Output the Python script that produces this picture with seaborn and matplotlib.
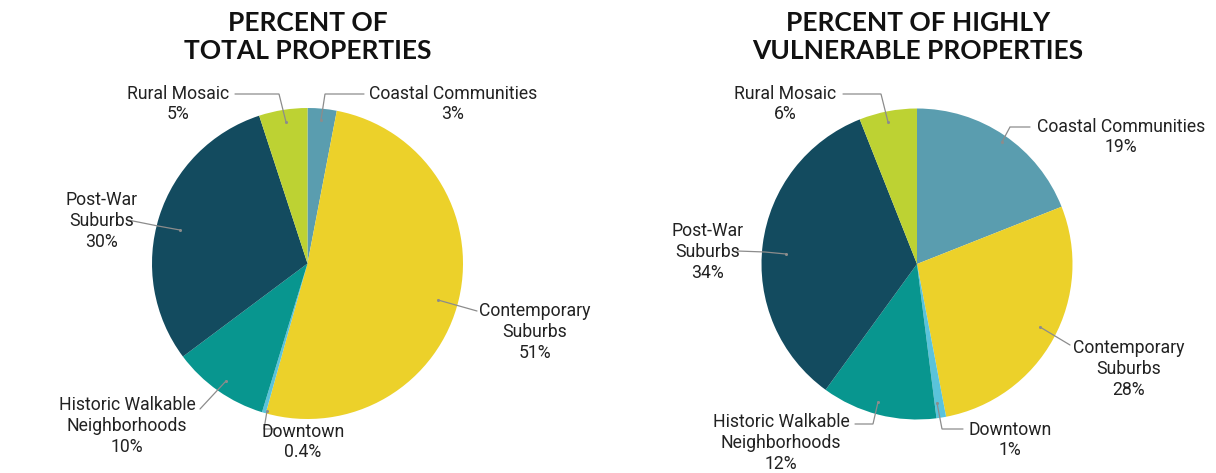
import matplotlib
matplotlib.use("Agg")
import matplotlib.pyplot as plt
import seaborn as sns

# --- data -------------------------------------------------------------
categories = [
    "Coastal Communities",
    "Contemporary Suburbs",
    "Downtown",
    "Historic Walkable Neighborhoods",
    "Post-War Suburbs",
    "Rural Mosaic",
]
label_text = [
    "Coastal Communities",
    "Contemporary\nSuburbs",
    "Downtown",
    "Historic Walkable\nNeighborhoods",
    "Post-War\nSuburbs",
    "Rural Mosaic",
]
total_pct = [3, 51, 0.4, 10, 30, 5]
vulnerable_pct = [19, 28, 1, 12, 34, 6]
titles = ["PERCENT OF\nTOTAL PROPERTIES", "PERCENT OF HIGHLY\nVULNERABLE PROPERTIES"]

slice_colors = ["#5a9daf", "#ecd12a", "#5ac3db", "#08968f", "#134b5f", "#bdd233"]

# --- style ------------------------------------------------------------
sns.set_theme(style="white")
plt.rcParams["font.family"] = ["Roboto", "DejaVu Sans"]

W, H = 1216, 473
fig = plt.figure(figsize=(W / 100, H / 100), dpi=100)
ax = fig.add_axes([0, 0, 1, 1])


def py(y):
    """Convert a top-down pixel row to axes units."""
    return H - y


pies = [
    dict(values=total_pct, center=(307.5, 263.5), radius=155.5, title_x=308),
    dict(values=vulnerable_pct, center=(917, 264), radius=155.5, title_x=918),
]

# label anchor (text centre) and leader path for each slice, per pie
label_layout = [
    {
        "Coastal Communities": ((453, 104), [(364, 94), (325, 94), (321, 120)]),
        "Contemporary Suburbs": ((535, 332), [(477, 311), (438, 300)]),
        "Downtown": ((303, 442), [(275, 429), (264, 429), (267, 411)]),
        "Historic Walkable Neighborhoods": ((127, 426), [(200, 409), (226, 381)]),
        "Post-War Suburbs": ((102, 221), [(128, 220), (158, 226), (180, 230)]),
        "Rural Mosaic": ((178, 104), [(235, 94), (279, 94), (286, 122)]),
    },
    {
        "Coastal Communities": ((1121, 137), [(1030, 127), (1010, 127), (1002, 142)]),
        "Contemporary Suburbs": ((1129, 369), [(1070, 345), (1040, 327)]),
        "Downtown": ((1010, 440), [(963, 429), (942, 429), (937, 403)]),
        "Historic Walkable Neighborhoods": ((781, 443), [(855, 424), (873, 424), (878, 402)]),
        "Post-War Suburbs": ((708, 252), [(737, 251), (765, 252), (786, 254)]),
        "Rural Mosaic": ((785, 104), [(843, 94), (881, 94), (888, 122)]),
    },
]

line_color = "#8c8c8c"

for pie, layout, title in zip(pies, label_layout, titles):
    cx, cy = pie["center"]
    ax.pie(
        pie["values"],
        colors=slice_colors,
        startangle=90,
        counterclock=False,
        center=(cx, py(cy)),
        radius=pie["radius"],
        frame=True,
        wedgeprops=dict(linewidth=0),
    )
    ax.text(pie["title_x"], py(37), title, ha="center", va="center",
            fontsize=19, fontweight="bold", family=["Lato", "DejaVu Sans"],
            linespacing=1.2, color="#111111")

    for cat, txt, val in zip(categories, label_text, pie["values"]):
        (tx, ty), path = layout[cat]
        ax.text(tx, py(ty), f"{txt}\n{val:g}%", ha="center", va="center",
                multialignment="center", fontsize=12.7, color="#222222",
                linespacing=1.2)
        xs = [p[0] for p in path]
        ys = [py(p[1]) for p in path]
        ax.plot(xs, ys, color=line_color, lw=0.9, solid_joinstyle="miter")
        ax.plot(xs[-1], ys[-1], "o", ms=2.2, color=line_color, mew=0)

ax.set_xlim(0, W)
ax.set_ylim(0, H)
ax.set_aspect("auto")
ax.axis("off")

fig.savefig("out.png", dpi=100, facecolor="white")
